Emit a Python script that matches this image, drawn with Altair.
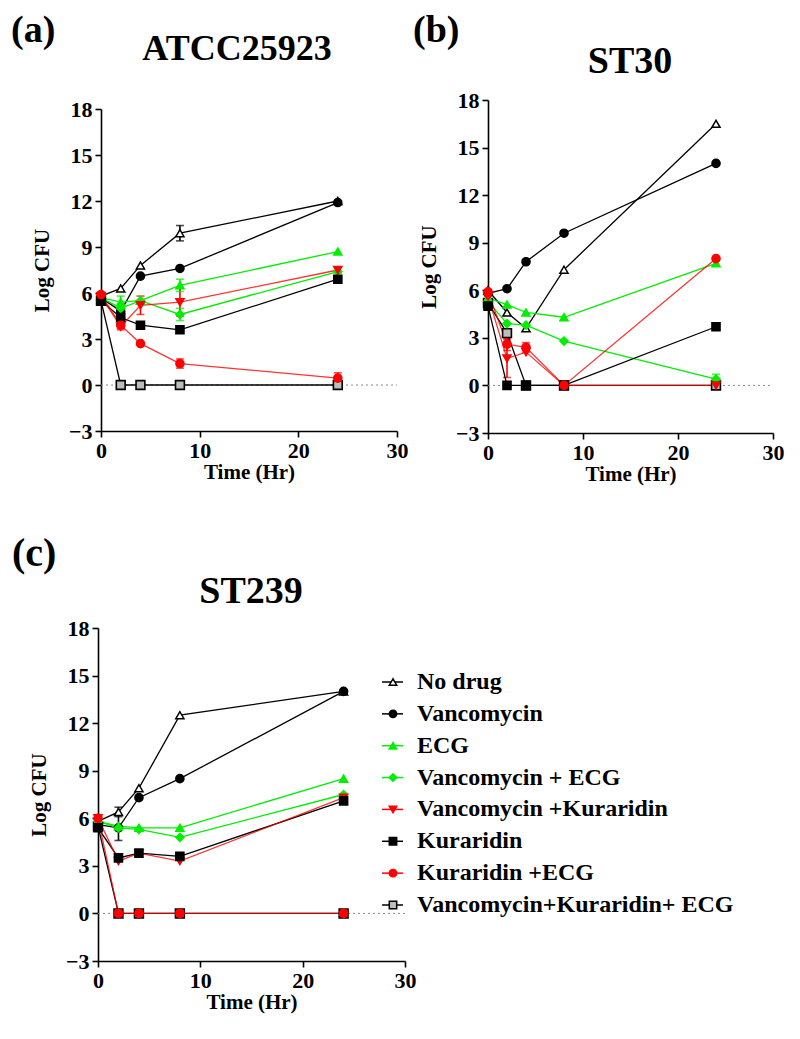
import altair as alt
import pandas as pd

# ---------------- data ----------------
TIMES = [0, 2, 4, 8, 24]
SERIES = ["No drug", "Vancomycin", "ECG", "Vancomycin + ECG",
          "Vancomycin +Kuraridin", "Kuraridin", "Kuraridin +ECG",
          "Vancomycin+Kuraridin+ ECG"]

ATCC_VALUES = {
    "No drug": [5.8, 6.3, 7.8, 9.9, 12.0],
    "Vancomycin": [5.7, 4.8, 7.1, 7.6, 11.9],
    "ECG": [5.7, 5.4, 5.5, 6.5, 8.7],
    "Vancomycin + ECG": [5.7, 5.0, 5.5, 4.6, 7.4],
    "Vancomycin +Kuraridin": [5.8, 3.8, 5.2, 5.4, 7.5],
    "Kuraridin": [5.5, 4.4, 3.9, 3.6, 6.9],
    "Kuraridin +ECG": [5.9, 3.9, 2.7, 1.4, 0.45],
    "Vancomycin+Kuraridin+ ECG": [5.5, 0, 0, 0, 0],
}
ATCC_ERRORS = {
    "No drug": [0, 0, 0, 0.5, 0],
    "ECG": [0, 0.4, 0, 0.4, 0],
    "Vancomycin + ECG": [0, 0.3, 0, 0.4, 0],
    "Vancomycin +Kuraridin": [0, 0.2, 0.6, 0.9, 0.2],
    "Kuraridin +ECG": [0, 0.2, 0, 0.3, 0.35],
}

ST30_VALUES = {
    "No drug": [6.0, 4.6, 3.6, 7.3, 16.5],
    "Vancomycin": [5.8, 6.1, 7.8, 9.6, 14.0],
    "ECG": [5.5, 5.1, 4.6, 4.3, 7.7],
    "Vancomycin + ECG": [5.3, 3.9, 3.8, 2.8, 0.4],
    "Vancomycin +Kuraridin": [5.6, 1.7, 2.1, 0, 0],
    "Kuraridin": [5.0, 0, 0, 0, 3.7],
    "Kuraridin +ECG": [5.9, 2.6, 2.4, 0, 8.0],
    "Vancomycin+Kuraridin+ ECG": [5.2, 3.3, 0, 0, 0],
}
ST30_ERRORS = {
    "Vancomycin + ECG": [0, 0, 0, 0, 0.3],
    "Vancomycin +Kuraridin": [0, 1.2, 0, 0, 0],
    "Kuraridin +ECG": [0, 0.4, 0.3, 0, 0],
}

ST239_VALUES = {
    "No drug": [5.8, 6.4, 7.9, 12.5, 14.0],
    "Vancomycin": [5.6, 5.4, 7.3, 8.5, 14.0],
    "ECG": [5.8, 5.5, 5.4, 5.4, 8.5],
    "Vancomycin + ECG": [5.8, 5.4, 5.3, 4.8, 7.5],
    "Vancomycin +Kuraridin": [6.0, 3.3, 3.8, 3.3, 7.3],
    "Kuraridin": [5.4, 3.5, 3.8, 3.6, 7.1],
    "Kuraridin +ECG": [6.0, 0, 0, 0, 0],
    "Vancomycin+Kuraridin+ ECG": [5.5, 0, 0, 0, 0],
}
ST239_ERRORS = {
    "No drug": [0, 0.3, 0, 0, 0],
    "Vancomycin": [0, 0.8, 0, 0, 0],
}

X_TICKS = [0, 10, 20, 30]
Y_TICKS = [-3, 0, 3, 6, 9, 12, 15, 18]

# ---------------- styles ----------------
STROKES = ["#000000", "#000000", "#00ee00", "#00ee00", "#ff0000", "#000000", "#ff0000", "#000000"]
FILLS = ["#ffffff", "#000000", "#00ee00", "#00ee00", "#ff0000", "#000000", "#ff0000", "#bdbdbd"]
SHAPES = ["triangle-up", "circle", "triangle-up", "diamond", "triangle-down", "square", "circle", "square"]
RED_SERIES = ["Vancomycin +Kuraridin", "Kuraridin +ECG"]
BACK_SERIES = ["Vancomycin+Kuraridin+ ECG"]

W, H = 784, 1023
FONT = "Liberation Serif"

color_scale = alt.Scale(domain=SERIES, range=STROKES)
fill_scale = alt.Scale(domain=SERIES, range=FILLS)
shape_scale = alt.Scale(domain=SERIES, range=SHAPES)


def long_df(values, errors):
    rows = []
    for i, s in enumerate(SERIES):
        errs = errors.get(s, [0] * len(TIMES))
        for j, t in enumerate(TIMES):
            v = values[s][j]
            e = errs[j]
            rows.append({"series": s, "order": i, "time": t, "cfu": v,
                         "lo": v - e, "hi": v + e, "err": e})
    return pd.DataFrame(rows)


def axis_style():
    return dict(grid=False, tickSize=6, labelPadding=3,
                domainWidth=1.6, tickWidth=1.6, domainColor="black", tickColor="black",
                labelColor="black", titleColor="black", labelFontSize=22, titleFontSize=21,
                labelFont=FONT, titleFont=FONT, labelFontWeight="bold", titleFontWeight="bold")


def panel(values, errors, xr, yr):
    df = long_df(values, errors)
    sx = alt.Scale(domain=[0, 30], range=xr, nice=False, zero=False)
    sy = alt.Scale(domain=[-3, 18], range=yr, nice=False, zero=False)
    X = alt.X("time:Q", scale=sx, axis=None)
    col = alt.Color("series:N", scale=color_scale, legend=None)

    zero = alt.Chart(pd.DataFrame({"a": [0], "b": [30], "z": [0]})).mark_rule(
        color="#8a8a8a", strokeDash=[2, 3], strokeWidth=1
    ).encode(
        x=alt.X("a:Q", scale=sx, axis=None), x2="b:Q",
        y=alt.Y("z:Q", scale=sy, axis=None),
    )

    edf = df[df.err > 0]
    ebar = alt.Chart(edf).mark_rule(strokeWidth=1.6).encode(
        x=X, y=alt.Y("lo:Q", scale=sy, axis=None), y2="hi:Q", color=col,
    )
    cap_lo = alt.Chart(edf).mark_tick(orient="horizontal", size=8, thickness=1.6).encode(
        x=X, y=alt.Y("lo:Q", scale=sy, axis=None), color=col,
    )
    cap_hi = alt.Chart(edf).mark_tick(orient="horizontal", size=8, thickness=1.6).encode(
        x=X, y=alt.Y("hi:Q", scale=sy, axis=None), color=col,
    )
    Y = alt.Y("cfu:Q", scale=sy, axis=None)
    lines_back = alt.Chart(df[~df.series.isin(RED_SERIES)]).mark_line(strokeWidth=1.3).encode(
        x=X, y=Y, color=col, detail="series:N",
    )
    lines_red = alt.Chart(df[df.series.isin(RED_SERIES)]).mark_line(strokeWidth=1.3, opacity=0.8).encode(
        x=X, y=Y, color=col, detail="series:N",
    )
    xaxis = alt.Axis(orient="bottom", offset=yr[0] - H, values=X_TICKS, title="Time (Hr)",
                     labelFlush=False, titlePadding=0, **axis_style())
    yaxis = alt.Axis(orient="left", offset=-xr[0], values=Y_TICKS, title="Log CFU",
                     titlePadding=16, **axis_style())
    sym = dict(
        shape=alt.Shape("series:N", scale=shape_scale, legend=None),
        fill=alt.Fill("series:N", scale=fill_scale, legend=None),
        stroke=alt.Stroke("series:N", scale=color_scale, legend=None),
    )
    points_back = alt.Chart(df[df.series.isin(BACK_SERIES)]).mark_point(
        filled=True, opacity=1, size=78, strokeWidth=1.6).encode(x=X, y=Y, **sym)
    points = alt.Chart(df[~df.series.isin(BACK_SERIES)]).mark_point(
        filled=True, opacity=1, size=66, strokeWidth=1.5).encode(
        x=alt.X("time:Q", scale=sx, axis=xaxis),
        y=alt.Y("cfu:Q", scale=sy, axis=yaxis),
        **sym,
    )
    return [zero, ebar, cap_lo, cap_hi, lines_back, lines_red, points_back, points]


def label(text, x, y, size, align="left"):
    return alt.Chart(pd.DataFrame({"k": [0]})).mark_text(
        text=text, font=FONT, fontSize=size, fontWeight="bold", color="black",
        align=align, baseline="alphabetic"
    ).encode(x=alt.value(x), y=alt.value(y))


layers = []
layers += panel(ATCC_VALUES, ATCC_ERRORS, [93, 389], [423, 101])
layers += panel(ST30_VALUES, ST30_ERRORS, [480, 765], [425, 92])
layers += panel(ST239_VALUES, ST239_ERRORS, [90, 397], [953, 620])

# legend
leg_df = pd.DataFrame({"series": SERIES, "idx": list(range(len(SERIES)))})
sy_leg = alt.Scale(domain=[0, 7], range=[674, 897], nice=False, zero=False)
leg_lines = alt.Chart(leg_df).mark_rule(strokeWidth=1.5).encode(
    x=alt.value(374), x2=alt.value(395),
    y=alt.Y("idx:Q", scale=sy_leg, axis=None),
    color=alt.Color("series:N", scale=color_scale, legend=None),
)
leg_points = alt.Chart(leg_df).mark_point(filled=True, opacity=1, size=55, strokeWidth=1.5).encode(
    x=alt.value(385),
    y=alt.Y("idx:Q", scale=sy_leg, axis=None),
    shape=alt.Shape("series:N", scale=shape_scale, legend=None),
    fill=alt.Fill("series:N", scale=fill_scale, legend=None),
    stroke=alt.Stroke("series:N", scale=color_scale, legend=None),
)
leg_text = alt.Chart(leg_df).mark_text(
    align="left", baseline="middle", font=FONT, fontSize=24, fontWeight="bold", color="black"
).encode(
    x=alt.value(409),
    y=alt.Y("idx:Q", scale=sy_leg, axis=None),
    text="series:N",
)
layers += [leg_lines, leg_points, leg_text]

# panel labels and titles
layers += [
    label("(a)", 3, 34, 38),
    label("(b)", 405, 34, 38),
    label("(c)", 4, 558, 40),
    label("ATCC25923", 229, 52, 36, "center"),
    label("ST30", 622, 65, 38, "center"),
    label("ST239", 243, 595, 38, "center"),
]

chart = alt.layer(*layers).resolve_scale(
    x="independent", y="independent"
).resolve_axis(
    x="independent", y="independent"
).properties(
    width=W, height=H, padding=0,
    autosize=alt.AutoSizeParams(type="none"),
).configure_view(stroke=None)

chart.save("out.html", embed_options={"renderer": "svg", "actions": False})
